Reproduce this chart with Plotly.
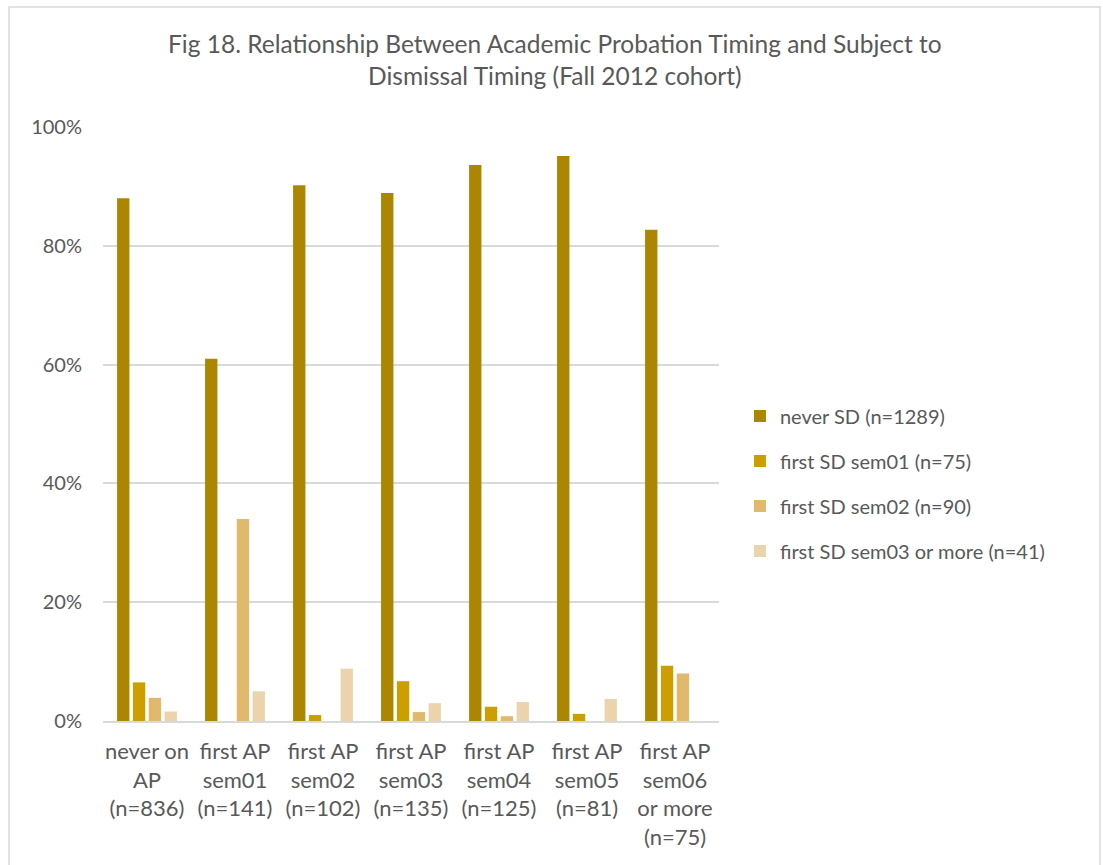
import plotly.graph_objects as go

categories = [
    "never on<br>AP<br>(n=836)",
    "first AP<br>sem01<br>(n=141)",
    "first AP<br>sem02<br>(n=102)",
    "first AP<br>sem03<br>(n=135)",
    "first AP<br>sem04<br>(n=125)",
    "first AP<br>sem05<br>(n=81)",
    "first AP<br>sem06<br>or more<br>(n=75)",
]

series_names = [
    "never SD (n=1289)",
    "first SD sem01 (n=75)",
    "first SD sem02 (n=90)",
    "first SD sem03 or more (n=41)",
]

never_sd = [0.880, 0.610, 0.902, 0.889, 0.936, 0.951, 0.827]
sd_sem01 = [0.065, 0.0, 0.010, 0.067, 0.024, 0.012, 0.093]
sd_sem02 = [0.039, 0.340, 0.0, 0.015, 0.008, 0.0, 0.080]
sd_sem03 = [0.016, 0.050, 0.088, 0.030, 0.032, 0.037, 0.0]

colors = ["#AD8600", "#CC9E00", "#E0B96C", "#EBD3AE"]

FONT = "Lato, 'Open Sans', sans-serif"
GREY = "#595959"

fig = go.Figure()
for name, vals, col in zip(series_names, [never_sd, sd_sem01, sd_sem02, sd_sem03], colors):
    fig.add_trace(go.Bar(
        x=categories, y=vals, name=name, legendgroup=name,
        marker=dict(color=col, line=dict(width=0)),
    ))

fig.update_layout(
    width=1103, height=865,
    paper_bgcolor="white", plot_bgcolor="white",
    font=dict(family=FONT, color=GREY, size=20),
    title=dict(
        text="Fig 18. Relationship Between Academic Probation Timing and Subject to<br>Dismissal Timing (Fall 2012 cohort)",
        x=0.503, xanchor="center", y=0.939, yanchor="top",
        font=dict(size=24.5, color=GREY, family=FONT),
    ),
    barmode="group", bargap=0.28, bargroupgap=0.22,
    margin=dict(l=103, r=384, t=127, b=144),
    legend=dict(
        x=1.034, xanchor="left", y=0.40, yanchor="middle",
        font=dict(size=20, color=GREY), tracegroupgap=16,
        bgcolor="rgba(0,0,0,0)",
    ),
    showlegend=True,
)
fig.update_yaxes(
    range=[0, 1], tickvals=[0, 0.2, 0.4, 0.6, 0.8, 1.0], tickformat=".0%",
    gridcolor="#D9D9D9", gridwidth=1.5, zeroline=False,
    showline=False, ticks="", ticklabelstandoff=20,
    tickfont=dict(size=20, color=GREY),
)
fig.update_xaxes(
    showline=True, linecolor="#D9D9D9", linewidth=1.5,
    tickangle=0, ticks="", ticklabelstandoff=10,
    tickfont=dict(size=22, color=GREY),
)
# chart area border (left 9px, top 7px, right 1100px on the page)
fig.add_shape(type="rect", xref="paper", yref="paper",
              x0=-94 / 616, x1=997 / 616, y0=-160 / 594, y1=714 / 594,
              line=dict(color="#D9D9D9", width=1.5), fillcolor="rgba(0,0,0,0)", layer="above")

fig.write_html("out.html", config={"displayModeBar": False},
               post_script="document.body.style.margin='0';")
